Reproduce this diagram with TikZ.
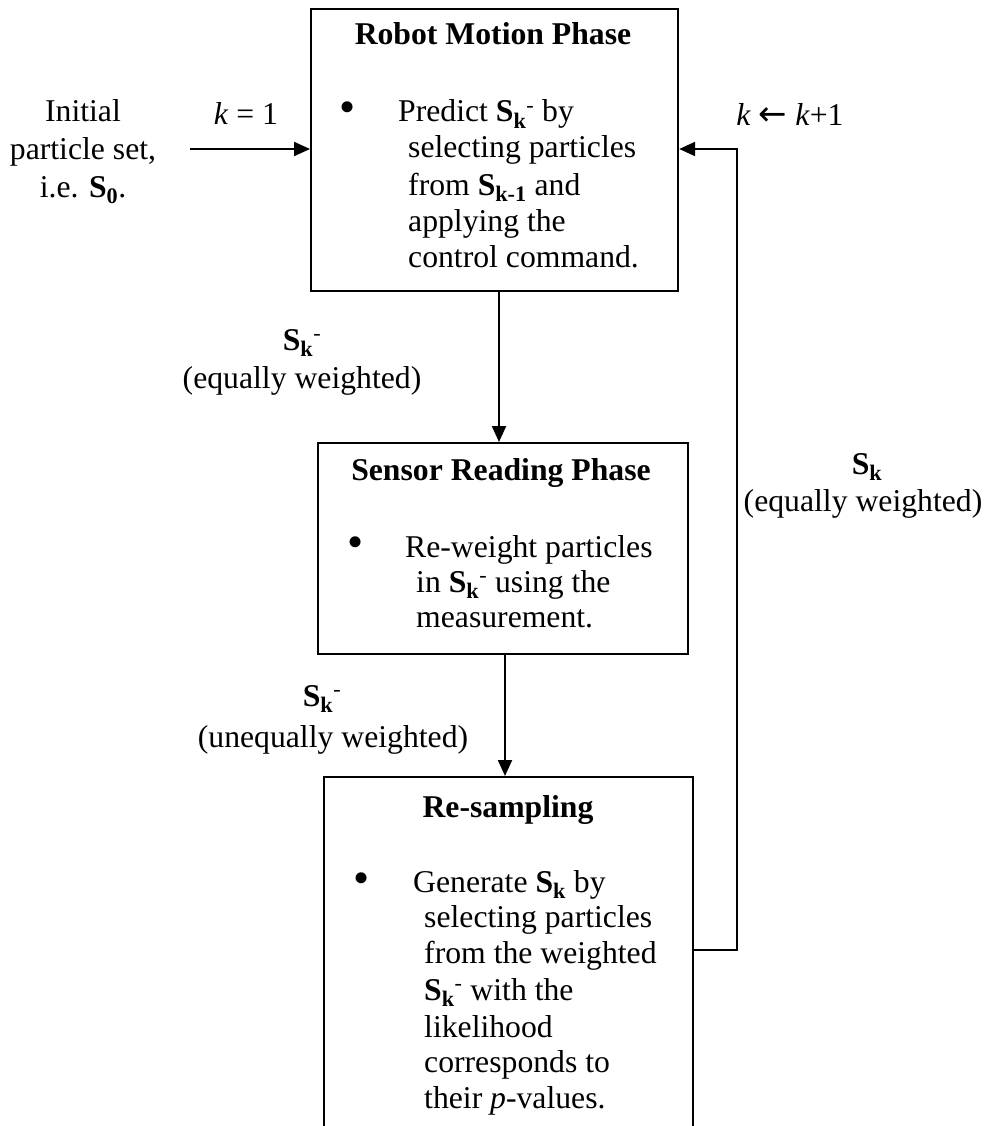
\documentclass[tikz,border=0pt]{standalone}
\usepackage{fontspec}
\setmainfont{Liberation Serif}
\newfontfamily\dejavu{DejaVu Sans}
\usetikzlibrary{arrows.meta}
\newcommand{\Sbk}{\textbf{S}\textsubscript{\textbf{k}}}
\newcommand{\Sbkm}{\textbf{S}\textsubscript{\textbf{k}}\textsuperscript{-}}
\tikzset{
  box/.style={draw, line width=2.2pt, anchor=north west, inner sep=0pt},
  txt/.style={inner sep=0pt, anchor=base west, font=\fontsize{31.7}{36}\selectfont},
  ctxt/.style={inner sep=0pt, anchor=base, font=\fontsize{31.7}{36}\selectfont},
  ttl/.style={inner sep=0pt, anchor=base, font=\fontsize{31.7}{36}\selectfont\bfseries},
  bul/.style={inner sep=0pt, anchor=center, font=\fontsize{46}{46}\selectfont},
  arr/.style={line width=2.2pt, -{Triangle[length=16pt,width=14pt]}},
}
\begin{document}
\begin{tikzpicture}[x=1pt,y=-1pt]
\useasboundingbox (0,0) rectangle (996,1126);
\fill[white] (0,0) rectangle (996,1126);
\clip (0,0) rectangle (996,1126);

% boxes
\node[box, minimum width=367pt, minimum height=282pt] (m) at (310,8) {};
\node[box, minimum width=370pt, minimum height=211pt] (s) at (317,442) {};
\node[box, minimum width=369pt, minimum height=380pt] (r) at (323,776) {};

% box 1 text
\node[ttl] (mt) at (493,45) {Robot Motion Phase};
\node[bul] (mb) at (348,112) {•};
\node[txt] (m1) at (398,122) {Predict \Sbkm\ by};
\node[txt] (m2) at (408,158) {selecting particles};
\node[txt] (m3) at (408,195) {from \textbf{S}\textsubscript{\textbf{k-1}} and};
\node[txt] (m4) at (408,231) {applying the};
\node[txt] (m5) at (408,267) {control command.};

% box 2 text
\node[ttl] (st) at (501,480) {Sensor Reading Phase};
\node[bul] (sb) at (356,547) {•};
\node[txt] (s1) at (405,557) {Re-weight particles};
\node[txt] (s2) at (416,592) {in \Sbkm\ using the};
\node[txt] (s3) at (416,627) {measurement.};

% box 3 text
\node[ttl] (rt) at (508,817) {Re-sampling};
\node[bul] (rb) at (362,883) {•};
\node[txt] (r1) at (413,892) {Generate \Sbk\ by};
\node[txt] (r2) at (424,927) {selecting particles};
\node[txt] (r3) at (424,963) {from the weighted};
\node[txt] (r4) at (424,1000) {\Sbkm\ with the};
\node[txt] (r5) at (424,1037) {likelihood};
\node[txt] (r6) at (424,1072) {corresponds to};
\node[txt] (r7) at (424,1108) {their \textit{p}-values.};

% outside labels
\node[ctxt] (i1) at (83,122) {Initial};
\node[ctxt] (i2) at (83,160) {particle set,};
\node[ctxt] (i3) at (83,197) {i.e. \textbf{S}\textsubscript{\textbf{0}}.};
\node[ctxt] (k1) at (246,125) {\textit{k} = 1};
\node[ctxt] (kk) at (790,126) {\textit{k} {\dejavu\fontsize{34}{36}\selectfont ←} \textit{k}+1};
\node[ctxt] (l1a) at (302,350) {\Sbkm};
\node[ctxt] (l1b) at (302,388) {(equally weighted)};
\node[ctxt] (l2a) at (322,706) {\Sbkm};
\node[ctxt] (l2b) at (333,747) {(unequally weighted)};
\node[ctxt] (l3a) at (867,474) {\Sbk};
\node[ctxt] (l3b) at (863,511) {(equally weighted)};

% connectors
\coordinate (a0) at (190,149);
\draw[arr] (a0) -- (a0 -| m.west);
\coordinate (c12) at (499,0);
\draw[arr] (m.south -| c12) -- (s.north -| c12);
\coordinate (c23) at (505,0);
\draw[arr] (s.south -| c23) -- (r.north -| c23);
\coordinate (fbo) at (737,950);
\coordinate (fbi) at (737,149);
\draw[arr] (r.east |- fbo) -- (fbo) -- (fbi) -- (m.east |- fbi);
\end{tikzpicture}
\end{document}
